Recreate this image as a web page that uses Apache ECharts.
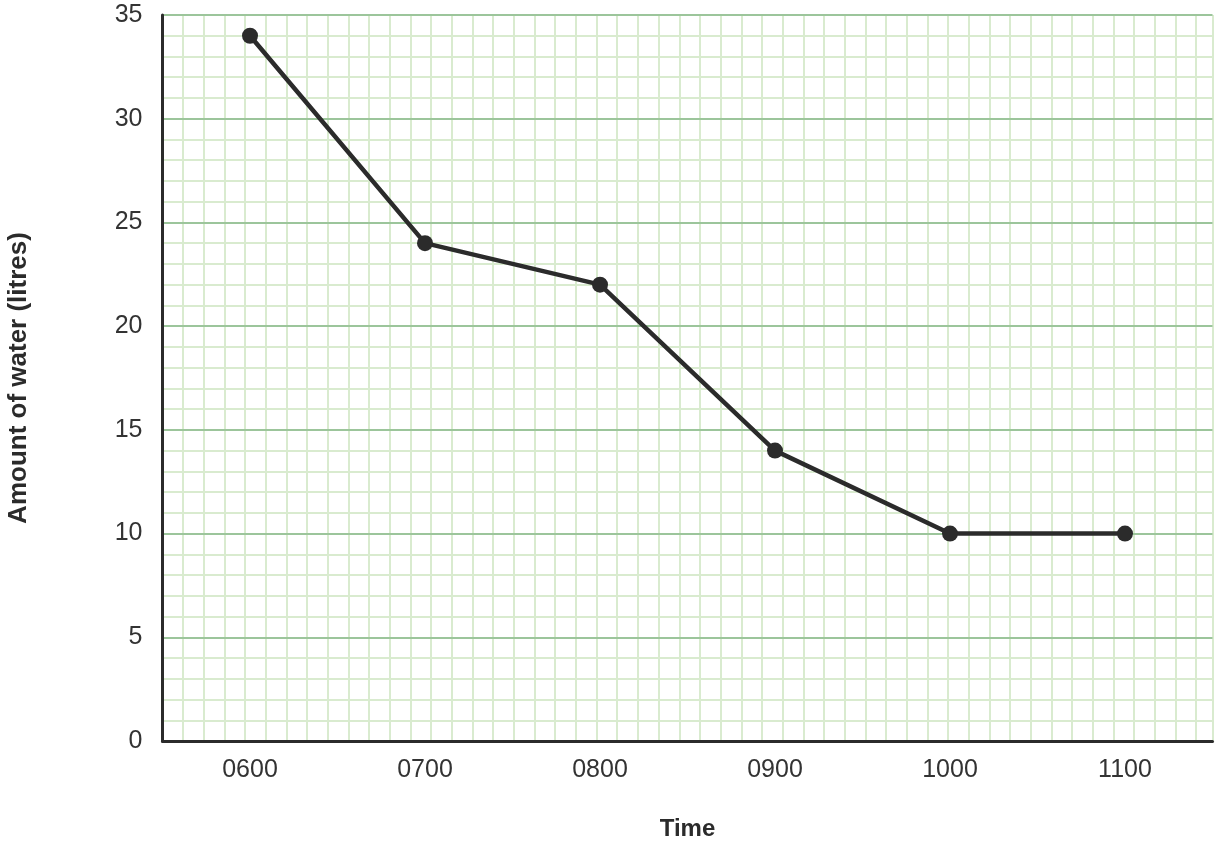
<!DOCTYPE html>
<html>
<head>
<meta charset="utf-8">
<script src="https://cdn.jsdelivr.net/npm/echarts@6/dist/echarts.min.js"></script>
<style>
html,body{margin:0;padding:0;background:#fff;}
#chart{width:1220px;height:842px;}
</style>
</head>
<body>
<div id="chart"></div>
<script>
const categories = ['0600', '0700', '0800', '0900', '1000', '1100'];
const waterLitres = [34, 24, 22, 14, 10, 10];
const yTicks = [0, 5, 10, 15, 20, 25, 30, 35];
const xTitle = 'Time';
const yTitle = 'Amount of water (litres)';

const font = '"Liberation Sans", Arial, sans-serif';
const chart = echarts.init(document.getElementById('chart'));
const gridLeft = 162.5, gridRight = 7.5;
const plotWidth = 1220 - gridLeft - gridRight;
const minorStep = 20.67;

chart.setOption({
  animation: false,
  grid: { left: gridLeft, right: gridRight, top: 15, bottom: 101, containLabel: false, outerBoundsMode: 'none' },
  xAxis: [
    {
      type: 'category',
      data: categories,
      boundaryGap: true,
      name: xTitle,
      nameLocation: 'middle',
      nameGap: 76,
      nameTextStyle: { fontFamily: font, fontSize: 24, fontWeight: 'bold', color: '#2b2b2b' },
      axisLine: { show: true, lineStyle: { color: '#2b2b2b', width: 3 } },
      axisTick: { show: false },
      axisLabel: { fontFamily: font, fontSize: 25, color: '#333', margin: 17 },
      splitLine: { show: false },
      z: 5
    },
    {
      type: 'value',
      position: 'top',
      min: 0,
      max: plotWidth / minorStep,
      interval: 1,
      axisLine: { show: false },
      axisTick: { show: false },
      axisLabel: { show: false },
      splitLine: { show: true, lineStyle: { color: '#d9ebcf', width: 2 } },
      z: 0
    }
  ],
  yAxis: {
    type: 'value',
    min: yTicks[0],
    max: yTicks[yTicks.length - 1],
    interval: 5,
    name: yTitle,
    nameLocation: 'middle',
    nameGap: 131,
    nameTextStyle: { fontFamily: font, fontSize: 26, fontWeight: 'bold', color: '#2b2b2b' },
    axisLine: { show: true, lineStyle: { color: '#2b2b2b', width: 3 } },
    axisTick: { show: false },
    axisLabel: { fontFamily: font, fontSize: 25, color: '#333', margin: 20 },
    splitLine: { show: true, lineStyle: { color: '#9cc59b', width: 2 } },
    minorTick: { show: false, splitNumber: 5 },
    minorSplitLine: { show: true, lineStyle: { color: '#d9ebcf', width: 2 } },
    z: 5
  },
  series: [{
    type: 'line',
    data: waterLitres,
    xAxisIndex: 0,
    symbol: 'circle',
    symbolSize: 16,
    lineStyle: { color: '#2b2b2b', width: 4.5 },
    itemStyle: { color: '#2b2b2b' },
    z: 10
  }]
});
</script>
</body>
</html>
